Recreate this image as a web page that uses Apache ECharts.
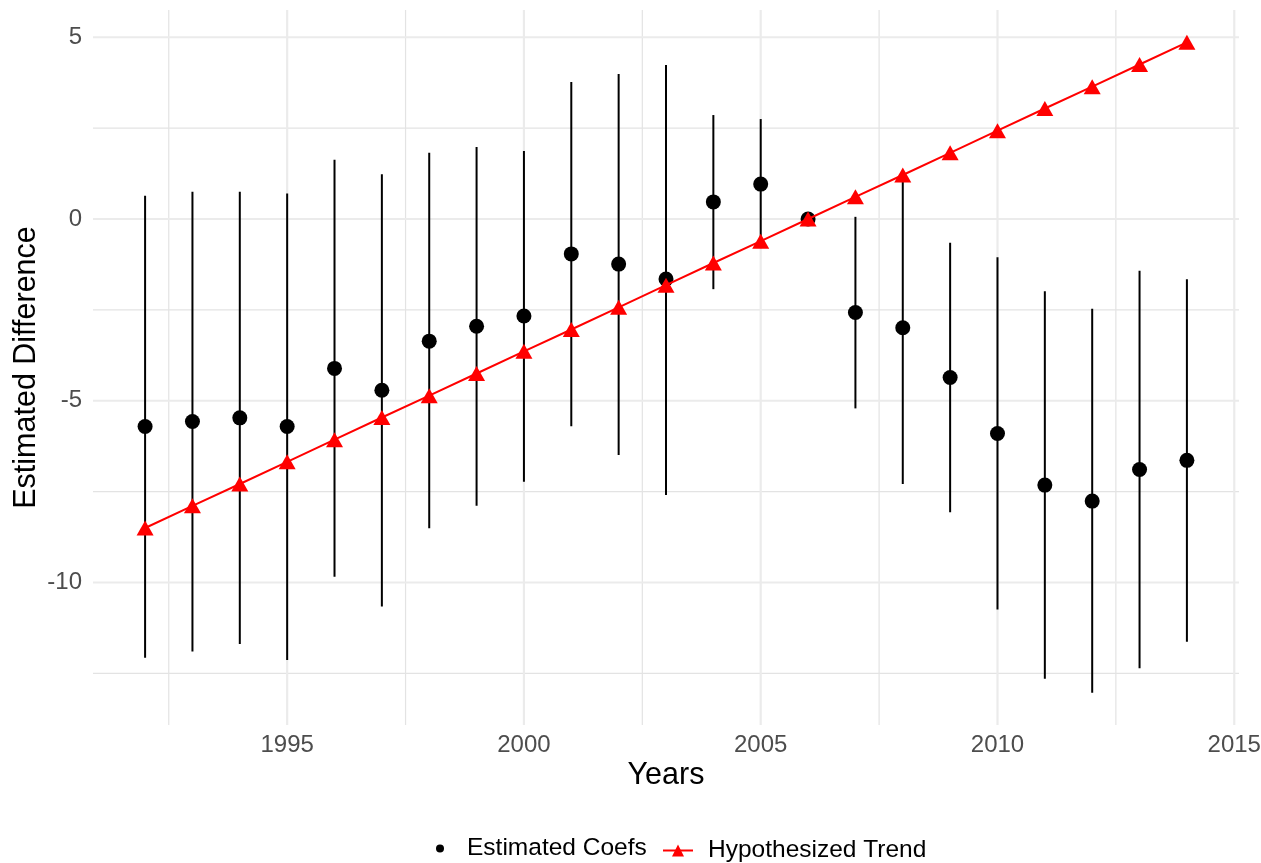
<!DOCTYPE html>
<html>
<head>
<meta charset="utf-8">
<script src="https://cdn.jsdelivr.net/npm/echarts@6/dist/echarts.min.js"></script>
<style>
html,body{margin:0;padding:0;background:#fff;}
#chart{width:1261px;height:863px;}
</style>
</head>
<body>
<div id="chart"></div>
<script>
// ---- data ----
const years = [1992,1993,1994,1995,1996,1997,1998,1999,2000,2001,2002,2003,2004,2005,2006,2007,2008,2009,2010,2011,2012,2013,2014];
const coefs = [-5.71,-5.57,-5.47,-5.71,-4.11,-4.71,-3.36,-2.95,-2.67,-0.96,-1.24,-1.65,0.47,0.96,0,-2.57,-2.99,-4.36,-5.90,-7.32,-7.76,-6.89,-6.64];
const lower = [-12.07,-11.90,-11.69,-12.13,-9.84,-10.66,-8.51,-7.89,-7.23,-5.70,-6.49,-7.59,-1.93,-0.80,0,-5.21,-7.29,-8.07,-10.74,-12.65,-13.03,-12.36,-11.63];
const upper = [0.64,0.75,0.75,0.70,1.63,1.23,1.82,1.98,1.87,3.77,3.99,4.24,2.86,2.75,0,0.06,1.15,-0.65,-1.05,-1.99,-2.47,-1.42,-1.66];
const trend = [-8.50,-7.89,-7.29,-6.68,-6.07,-5.46,-4.86,-4.25,-3.64,-3.04,-2.43,-1.82,-1.21,-0.61,0,0.61,1.21,1.82,2.43,3.04,3.64,4.25,4.86];
const xTicks = [1995,2000,2005,2010,2015];
const xMinorTicks = [1992.5,1997.5,2002.5,2007.5,2012.5];
const yTicks = [-10,-5,0,5];
const yMinorTicks = [-12.5,-7.5,-2.5,2.5];

const FONT = 'Liberation Sans, Arial, sans-serif';
const chart = echarts.init(document.getElementById('chart'), null, {renderer:'canvas'});

const coefData = years.map((y,i)=>[y, coefs[i]]);
const barData = years.map((y,i)=>[y, lower[i], upper[i]]);
const trendData = years.map((y,i)=>[y, trend[i]]);

// grid line items: [value, orientation (0 = vertical / x, 1 = horizontal / y), major flag]
const gridItems = []
  .concat(xMinorTicks.map(v=>[v,0,0]))
  .concat(yMinorTicks.map(v=>[v,1,0]))
  .concat(xTicks.map(v=>[v,0,1]))
  .concat(yTicks.map(v=>[v,1,1]));

const option = {
  animation:false,
  backgroundColor:'#ffffff',
  textStyle:{fontFamily:FONT},
  grid:{left:93, right:22, top:10, bottom:138, containLabel:false, outerBoundsMode:'none'},
  xAxis:{
    type:'value', min:1990.9, max:2015.1,
    name:'Years', nameLocation:'middle', nameGap:35, nameMoveOverlap:false,
    nameTextStyle:{fontSize:30.5, color:'#000', fontFamily:FONT},
    axisLine:{show:false}, axisTick:{show:false}, splitLine:{show:false},
    axisLabel:{customValues:xTicks, fontSize:24, color:'#4d4d4d', margin:8, fontFamily:FONT,
      formatter:function(v){return String(v);}}
  },
  yAxis:{
    type:'value', min:-13.92, max:5.75,
    name:'Estimated Difference', nameLocation:'middle', nameGap:51, nameMoveOverlap:false,
    nameTextStyle:{fontSize:30.5, color:'#000', fontFamily:FONT},
    axisLine:{show:false}, axisTick:{show:false}, splitLine:{show:false},
    axisLabel:{customValues:yTicks, fontSize:24, color:'#4d4d4d', margin:11, fontFamily:FONT,
      formatter:function(v){return String(v);}}
  },
  legend:[
    {
      data:[{name:'Estimated Coefs', icon:'circle'}],
      left:431, top:831, itemWidth:44, itemHeight:8,
      textStyle:{fontSize:24.5, color:'#000', fontFamily:FONT}
    },
    {
      data:[{name:'Hypothesized Trend'}],
      left:657, top:833, itemWidth:30, itemHeight:15,
      textStyle:{fontSize:24.5, color:'#000', fontFamily:FONT, padding:[0,0,0,10]}
    }
  ],
  series:[
    {
      name:'grid', type:'custom', z:0, silent:true,
      data:gridItems,
      encode:{x:-1, y:-1},
      clip:false,
      renderItem:function(params, api){
        const cs = params.coordSys;
        const v = api.value(0), dir = api.value(1), major = api.value(2);
        let x1,y1,x2,y2;
        if(dir === 0){
          const p = api.coord([v, 0]);
          x1 = x2 = p[0]; y1 = cs.y; y2 = cs.y + cs.height;
        } else {
          const p = api.coord([1995, v]);
          y1 = y2 = p[1]; x1 = cs.x; x2 = cs.x + cs.width;
        }
        return {type:'line', shape:{x1:x1,y1:y1,x2:x2,y2:y2},
          style:{stroke: major ? '#ebebeb' : '#e3e3e3', lineWidth: major ? 2.2 : 1.2}};
      }
    },
    {
      name:'errbars', type:'custom', z:1, silent:true,
      data:barData,
      encode:{x:0, y:[1,2]},
      renderItem:function(params, api){
        const p1 = api.coord([api.value(0), api.value(1)]);
        const p2 = api.coord([api.value(0), api.value(2)]);
        return {type:'line', shape:{x1:p1[0], y1:p1[1], x2:p2[0], y2:p2[1]},
          style:{stroke:'#000', lineWidth:2}};
      }
    },
    {
      name:'Estimated Coefs', type:'scatter', z:2,
      data:coefData, symbol:'circle', symbolSize:15,
      itemStyle:{color:'#000', opacity:1}
    },
    {
      name:'Hypothesized Trend', type:'line', z:3,
      data:trendData, symbol:'triangle', symbolSize:[17,15],
      lineStyle:{color:'#ff0000', width:2},
      itemStyle:{color:'#ff0000'}
    }
  ]
};
chart.setOption(option);
</script>
</body>
</html>
